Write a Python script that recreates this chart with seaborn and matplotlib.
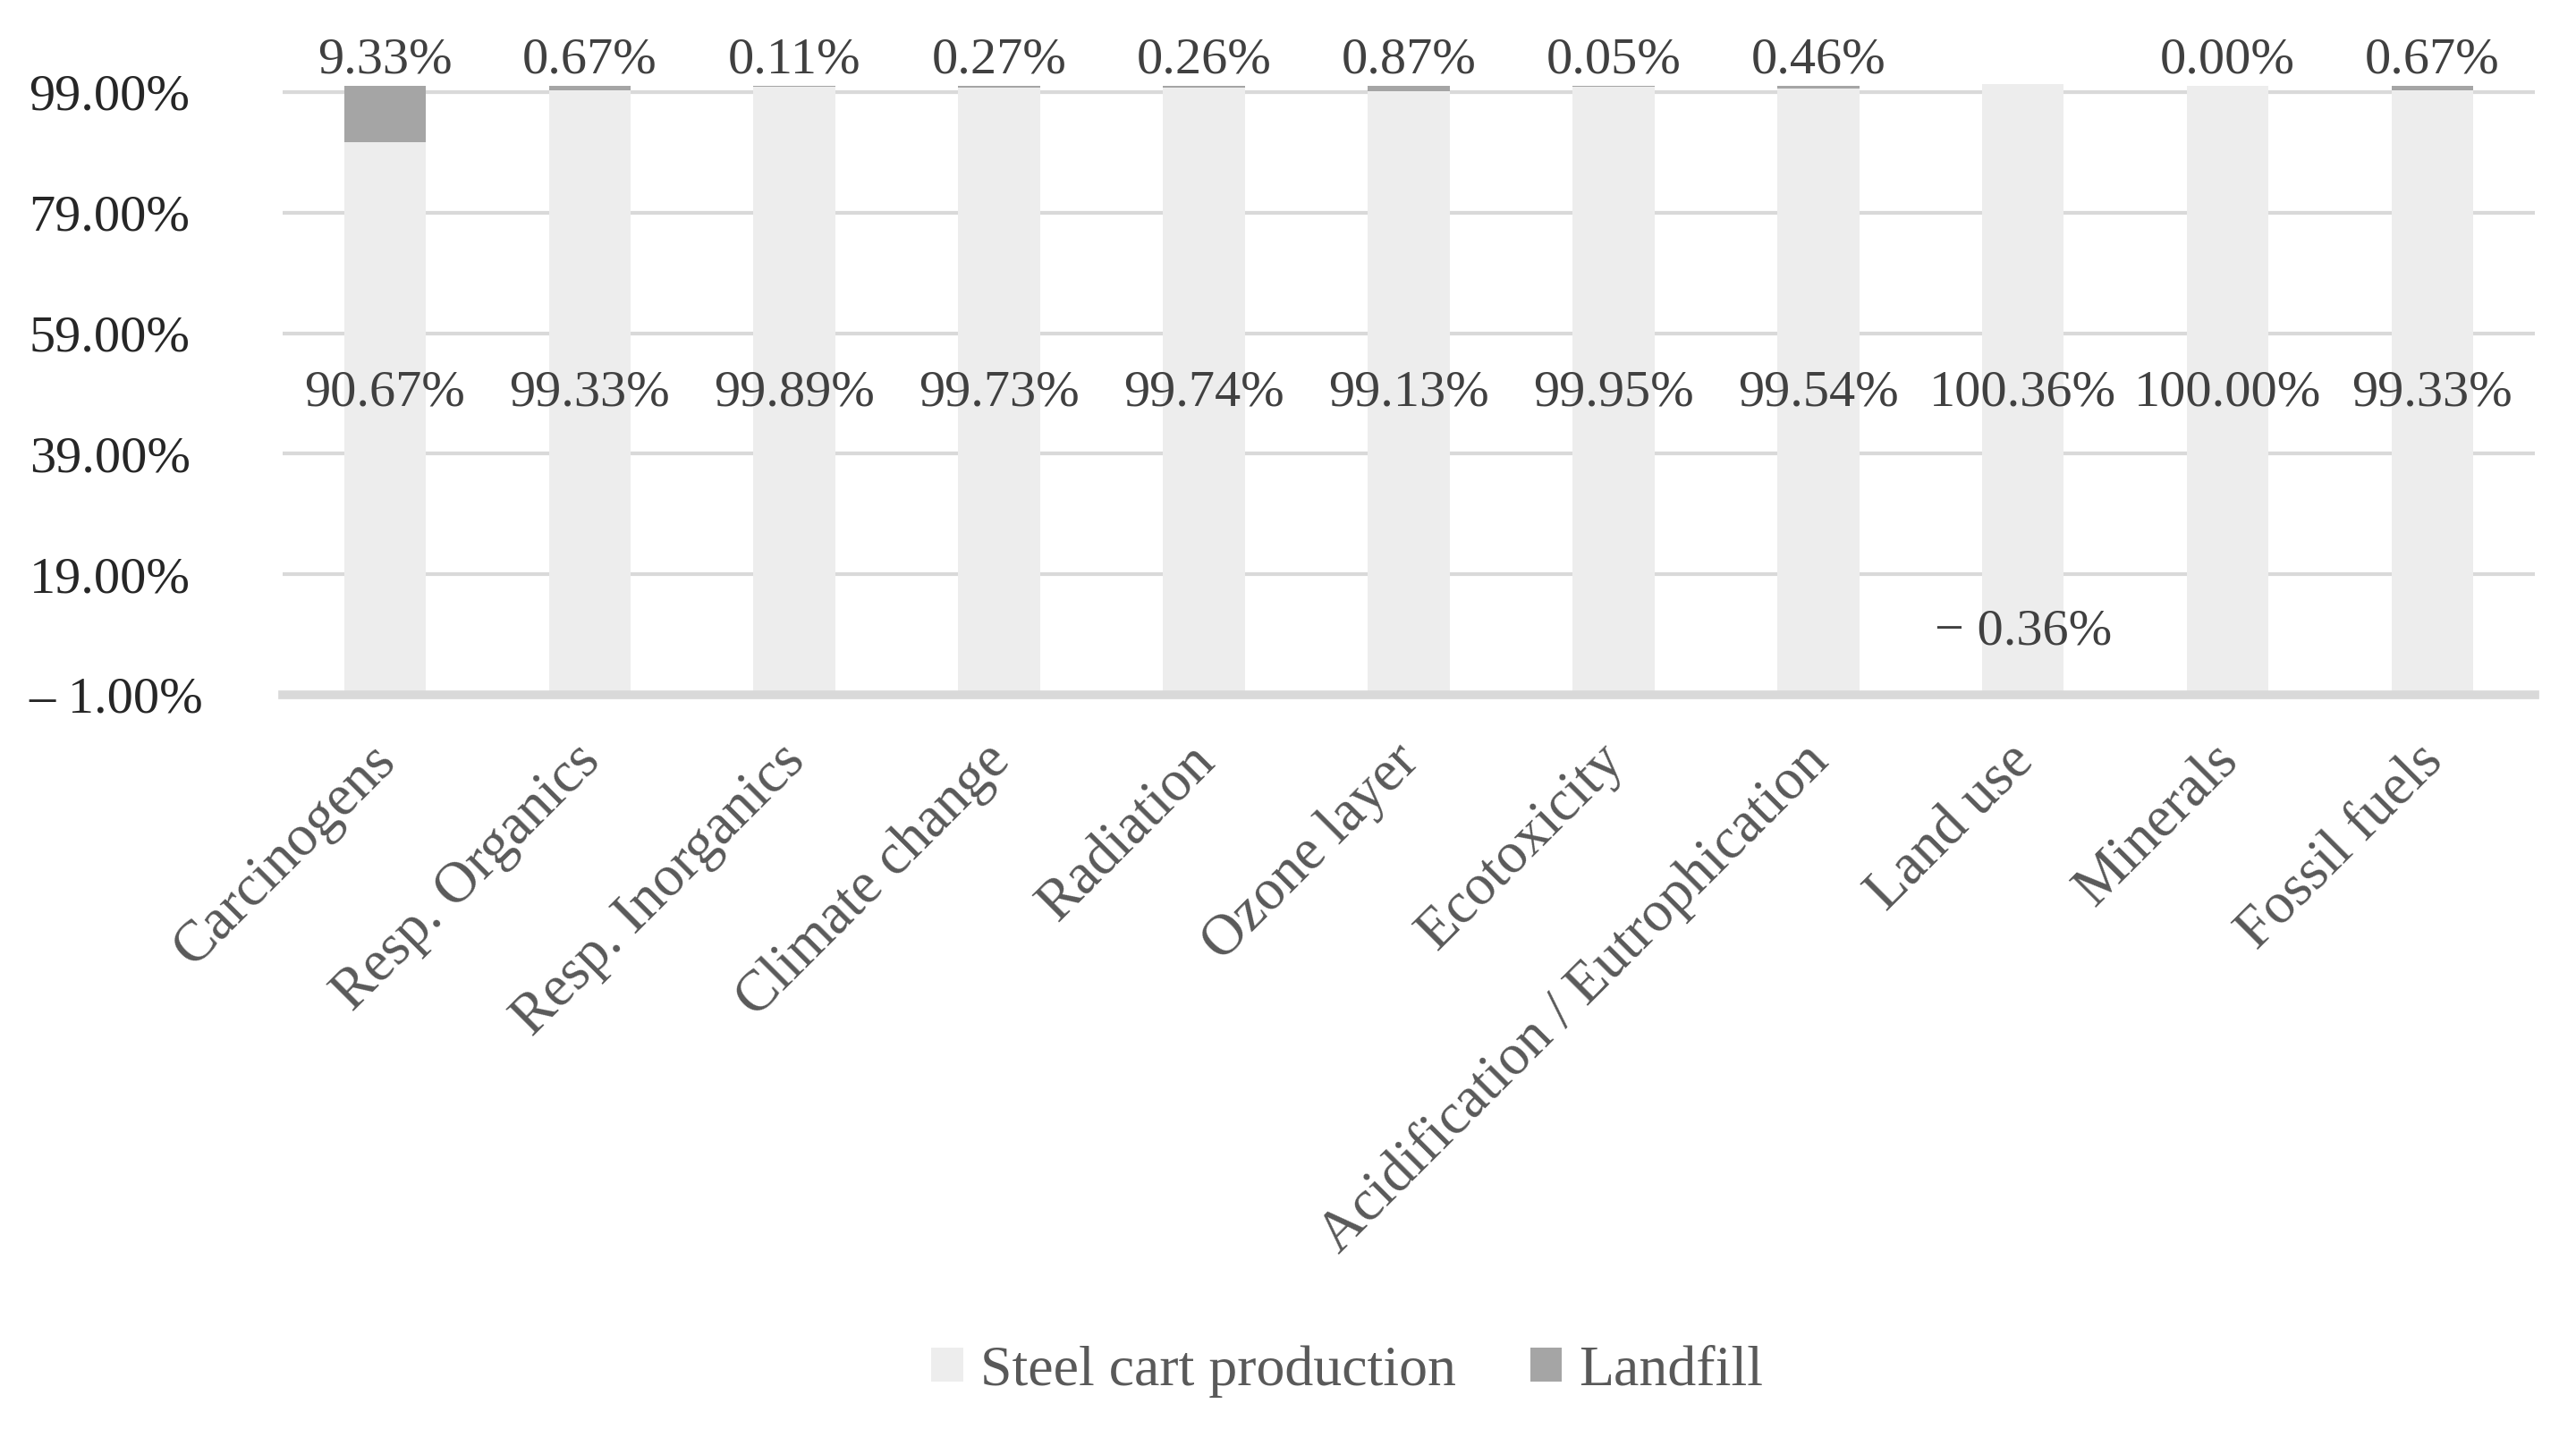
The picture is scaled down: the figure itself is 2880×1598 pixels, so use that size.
import numpy as np
import pandas as pd
import matplotlib
matplotlib.use("Agg")
import matplotlib.pyplot as plt
from matplotlib.patches import Patch
from matplotlib.ticker import FixedLocator, FuncFormatter
import seaborn as sns

# ── data ──────────────────────────────────────
categories = [
    "Carcinogens", "Resp. Organics", "Resp. Inorganics", "Climate change",
    "Radiation", "Ozone layer", "Ecotoxicity", "Acidification / Eutrophication",
    "Land use", "Minerals", "Fossil fuels",
]
steel    = [90.67, 99.33, 99.89, 99.73, 99.74, 99.13, 99.95, 99.54, 100.36, 100.00, 99.33]
landfill = [9.33, 0.67, 0.11, 0.27, 0.26, 0.87, 0.05, 0.46, -0.36, 0.00, 0.67]
y_ticks  = [-1, 19, 39, 59, 79, 99]
series   = ["Steel cart production", "Landfill"]

AXIS_BASE = -1.0          # horizontal axis crosses at -1 %
STEEL_C   = "#EDEDED"
LAND_C    = "#A5A5A5"
GRID_C    = "#D9D9D9"

sns.set_style("white")
plt.rcParams["font.family"] = ["Liberation Serif", "DejaVu Serif"]


def pct(v):
    s = f"{abs(v):.2f}%"
    return f"\u2212 {s}" if v < 0 else s


df = pd.DataFrame({"cat": categories, "steel": steel, "landfill": landfill})
df["steel_h"] = df["steel"] - AXIS_BASE
df["land_pos"] = df["landfill"].clip(lower=0)

fig = plt.figure(figsize=(14.4, 7.99), dpi=200)
ax = fig.add_axes([0.1097, 0.5138, 0.8743, 0.4302])

sns.barplot(data=df, x="cat", y="steel_h", bottom=AXIS_BASE, color=STEEL_C,
            width=0.4, saturation=1, ax=ax, linewidth=0, zorder=2)
sns.barplot(data=df, x="cat", y="land_pos", bottom=df["steel"], color=LAND_C,
            width=0.4, saturation=1, ax=ax, linewidth=0, zorder=2)

ax.set_xlim(-0.5, len(categories) - 0.5)
ax.set_ylim(-1, 101)
ax.set_xlabel("")
ax.set_ylabel("")

# ── grid / spines ─────────────────────────────
ax.yaxis.set_major_locator(FixedLocator(y_ticks))
ax.yaxis.set_major_formatter(FuncFormatter(
    lambda v, _: f"\u2013 {abs(v):.2f}%" if v < 0 else f"{v:.2f}%"))
ax.set_axisbelow(True)
ax.grid(axis="y", color=GRID_C, lw=1.5)
ax.grid(axis="x", visible=False)
for side in ["top", "right", "left"]:
    ax.spines[side].set_visible(False)
ax.spines["bottom"].set_color(GRID_C)
ax.spines["bottom"].set_linewidth(3.5)
ax.spines["bottom"].set_zorder(3)

ax.tick_params(axis="y", length=0, pad=102, labelsize=21, labelcolor="#262626")
for lab in ax.get_yticklabels():
    lab.set_horizontalalignment("left")

# category labels, rotated 45°
ax.set_xticks(range(len(categories)))
ax.set_xticklabels([])
ax.tick_params(axis="x", length=0)
for i, cat in enumerate(categories):
    ax.annotate(cat, xy=(i, AXIS_BASE), xytext=(1, -23.5),
                textcoords="offset points", rotation=45, ha="right",
                va="center", rotation_mode="anchor", fontsize=23.3,
                color="#595959", annotation_clip=False)

# ── data labels ───────────────────────────────
for i, (s, l) in enumerate(zip(steel, landfill)):
    ax.text(i, 49, pct(s), ha="center", va="center",
            fontsize=21, color="#404040", zorder=4)
    if l < 0:
        ax.text(i, 9.5, pct(l), ha="center", va="center",
                fontsize=21, color="#404040", zorder=4)
    else:
        ax.text(i, 104.3, pct(l), ha="center", va="center",
                fontsize=21, color="#404040", zorder=4, clip_on=False)

# ── legend ────────────────────────────────────
handles = [Patch(facecolor=STEEL_C, edgecolor="none"),
           Patch(facecolor=LAND_C, edgecolor="none")]
fig.legend(handles, series, loc="center", bbox_to_anchor=(0.523, 0.0405),
           ncol=2, frameon=False, fontsize=23, labelcolor="#595959",
           handlelength=0.55, handleheight=0.55, handletextpad=0.3,
           columnspacing=1.3)

fig.savefig("out.png", dpi=200)
plt.close(fig)
